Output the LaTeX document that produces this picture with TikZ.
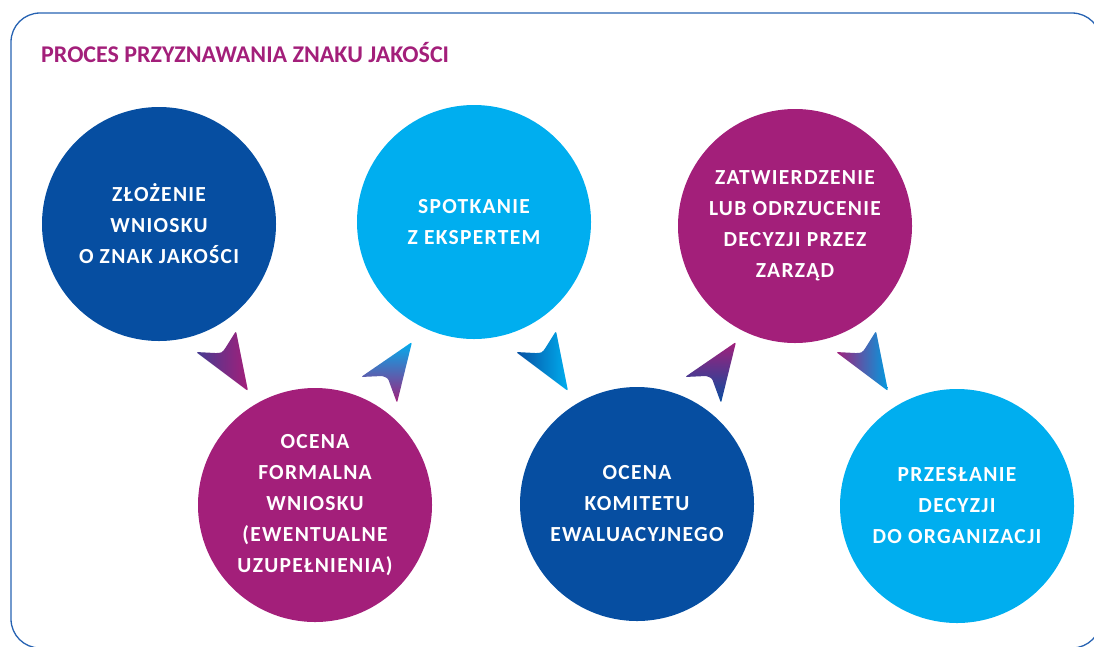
\documentclass[tikz,border=0pt]{standalone}
\usepackage{fontspec}
\setmainfont{Carlito}
\newfontfamily\circfont[LetterSpace=6]{Carlito}
\definecolor{dblue}{RGB}{6,78,161}
\definecolor{cyanb}{RGB}{0,174,239}
\definecolor{magb}{RGB}{163,31,122}
\definecolor{frameblue}{RGB}{38,98,178}
\tikzset{
  stepcircle/.style={circle, minimum size=234pt, inner sep=0pt, text=white, align=center,
    font=\circfont\bfseries\fontsize{21.5}{31}\selectfont}
}
\newcommand\pointerA[3]{% shift x, left colour, right colour
  \shade[left color=#2, right color=#3, xshift=#1pt]
    (196,352) [rounded corners=2pt] -- (248,391) -- (236,331) [sharp corners] -- (226,347)
    .. controls (222,353) .. (215,353) [rounded corners=2pt] -- cycle;}
\newcommand\pointerB[3]{% shift x, top colour, bottom colour
  \shade[top color=#2, bottom color=#3, xshift=#1pt]
    (412,342) [rounded corners=2pt] -- (361,377) [sharp corners] -- (382,376)
    .. controls (388,378) .. (390,384) [rounded corners=2pt] -- (397,403) -- cycle;}
\begin{document}
\begin{tikzpicture}[x=1pt,y=-1pt]
\useasboundingbox (0,0) rectangle (1094,646);
\begin{scope}
\clip (0,0) rectangle (1094,646);
\draw[frameblue, line width=1.3pt, rounded corners=29pt] (11,13) rectangle (1101,648);
\end{scope}
\node[anchor=base west, text=magb, font=\bfseries\fontsize{24}{28}\selectfont, inner sep=0pt] (title) at (41,62) {PROCES PRZYZNAWANIA ZNAKU JAKOŚCI};

\node[stepcircle, fill=dblue] (c1) at (159,224) {ZŁOŻENIE\\WNIOSKU\\O ZNAK JAKOŚCI};
\node[stepcircle, fill=cyanb] (c2) at (474,222) {SPOTKANIE\\Z EKSPERTEM};
\node[stepcircle, fill=magb] (c3) at (795,226) {ZATWIERDZENIE\\LUB ODRZUCENIE\\DECYZJI PRZEZ\\ZARZĄD};
\node[stepcircle, fill=magb] (c4) at (315,505) {OCENA\\FORMALNA\\WNIOSKU\\(EWENTUALNE\\UZUPEŁNIENIA)};
\node[stepcircle, fill=dblue] (c5) at (637,504) {OCENA\\KOMITETU\\EWALUACYJNEGO};
\node[stepcircle, fill=cyanb] (c6) at (957,506) {PRZESŁANIE\\DECYZJI\\DO ORGANIZACJI};

\pointerA{0}{dblue!60!magb}{magb}
\pointerA{320}{dblue}{cyanb}
\pointerA{640}{magb}{cyanb!80!dblue}
\pointerB{0}{cyanb}{magb}
\pointerB{324}{magb}{dblue}
\end{tikzpicture}
\end{document}
